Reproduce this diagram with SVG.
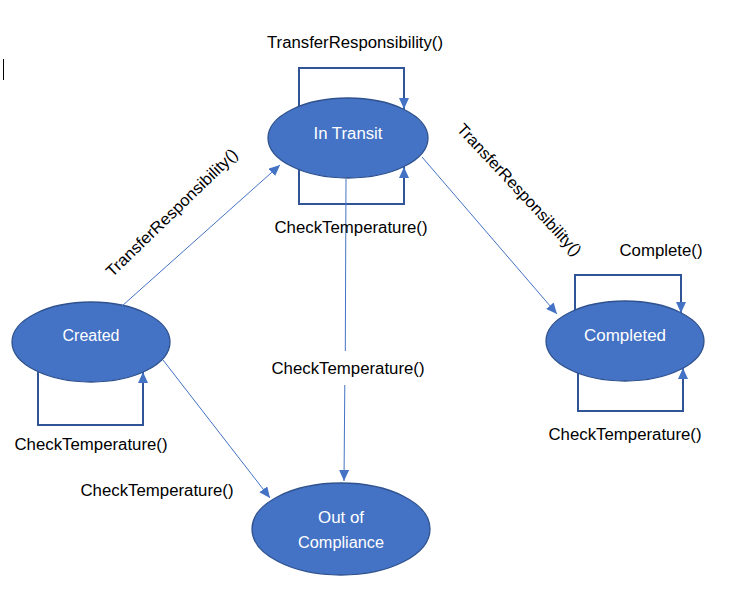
<svg xmlns="http://www.w3.org/2000/svg" width="754" height="603" viewBox="0 0 754 603">
<style>
.node{fill:#4472C4;stroke:#2F528F;stroke-width:1.3}
.nt{font-family:"Liberation Sans",Arial,sans-serif;font-size:16px;fill:#FFFFFF;text-anchor:middle}
.lbl{font-family:"Liberation Sans",Arial,sans-serif;font-size:16px;fill:#000000;text-anchor:middle}
.loop{fill:none;stroke:#2F5597;stroke-width:2}
.thin{fill:none;stroke:#4472C4;stroke-width:1}
</style>
<defs>
<marker id="ahLoop" markerUnits="userSpaceOnUse" markerWidth="11" markerHeight="10" refX="11" refY="5" orient="auto">
<path d="M0,0 L11,5 L0,10 z" fill="#4472C4"/>
</marker>
<marker id="ahThin" markerUnits="userSpaceOnUse" markerWidth="11" markerHeight="10" refX="11" refY="5" orient="auto">
<path d="M0,0 L11,5 L0,10 z" fill="#4472C4"/>
</marker>
</defs>
<rect x="0" y="0" width="754" height="603" fill="#FFFFFF"/>
<line x1="3.5" y1="59" x2="3.5" y2="80" stroke="#000000" stroke-width="1"/>

<g id="node-in-transit">
<ellipse class="node" cx="348" cy="138" rx="80" ry="40"/>
<text class="nt" x="348" y="139" textLength="69" lengthAdjust="spacingAndGlyphs">In Transit</text>
</g>
<g id="node-created">
<ellipse class="node" cx="91" cy="342" rx="79" ry="40"/>
<text class="nt" x="91" y="341" textLength="57" lengthAdjust="spacingAndGlyphs">Created</text>
</g>
<g id="node-completed">
<ellipse class="node" cx="625" cy="341" rx="79" ry="40"/>
<text class="nt" x="625" y="341" textLength="82" lengthAdjust="spacingAndGlyphs">Completed</text>
</g>
<g id="node-out-of-compliance">
<ellipse class="node" cx="341" cy="529" rx="89" ry="46"/>
<text class="nt" x="341" y="523" textLength="46" lengthAdjust="spacingAndGlyphs">Out of</text>
<text class="nt" x="341" y="548" textLength="86" lengthAdjust="spacingAndGlyphs">Compliance</text>
</g>

<g id="connectors">
<path class="loop" d="M299,106 L299,68 L404,68 L404,109" marker-end="url(#ahLoop)"/>
<path class="loop" d="M299,170 L299,204 L404,204 L404,167" marker-end="url(#ahLoop)"/>
<path class="loop" d="M38,372 L38,425 L143,425 L143,372" marker-end="url(#ahLoop)"/>
<path class="loop" d="M575,310 L575,275 L681,275 L681,313" marker-end="url(#ahLoop)"/>
<path class="loop" d="M578,373 L578,411 L683,411 L683,368" marker-end="url(#ahLoop)"/>
<path class="thin" d="M122,306 L280,165" marker-end="url(#ahThin)"/>
<path class="thin" d="M163,360 L270,498" marker-end="url(#ahThin)"/>
<path class="thin" d="M422,157 L557,314" marker-end="url(#ahThin)"/>
<path class="thin" d="M346,179 L345.3,351 M344.8,385 L344,481" marker-end="url(#ahThin)"/>
</g>

<g id="labels">
<text class="lbl" x="355" y="48" textLength="176" lengthAdjust="spacingAndGlyphs">TransferResponsibility()</text>
<text class="lbl" x="351" y="233" textLength="153" lengthAdjust="spacingAndGlyphs">CheckTemperature()</text>
<text class="lbl" x="348" y="374" textLength="153" lengthAdjust="spacingAndGlyphs">CheckTemperature()</text>
<text class="lbl" x="91" y="450" textLength="153" lengthAdjust="spacingAndGlyphs">CheckTemperature()</text>
<text class="lbl" x="157" y="496" textLength="153" lengthAdjust="spacingAndGlyphs">CheckTemperature()</text>
<text class="lbl" x="661" y="256" textLength="83" lengthAdjust="spacingAndGlyphs">Complete()</text>
<text class="lbl" x="625" y="440" textLength="153" lengthAdjust="spacingAndGlyphs">CheckTemperature()</text>
<text class="lbl" transform="translate(172,213) rotate(-44)" x="0" y="5" textLength="176" lengthAdjust="spacingAndGlyphs">TransferResponsibility()</text>
<text class="lbl" transform="translate(519,190) rotate(47)" x="0" y="5" textLength="174" lengthAdjust="spacingAndGlyphs">TransferResponsibility()</text>
</g>
</svg>
